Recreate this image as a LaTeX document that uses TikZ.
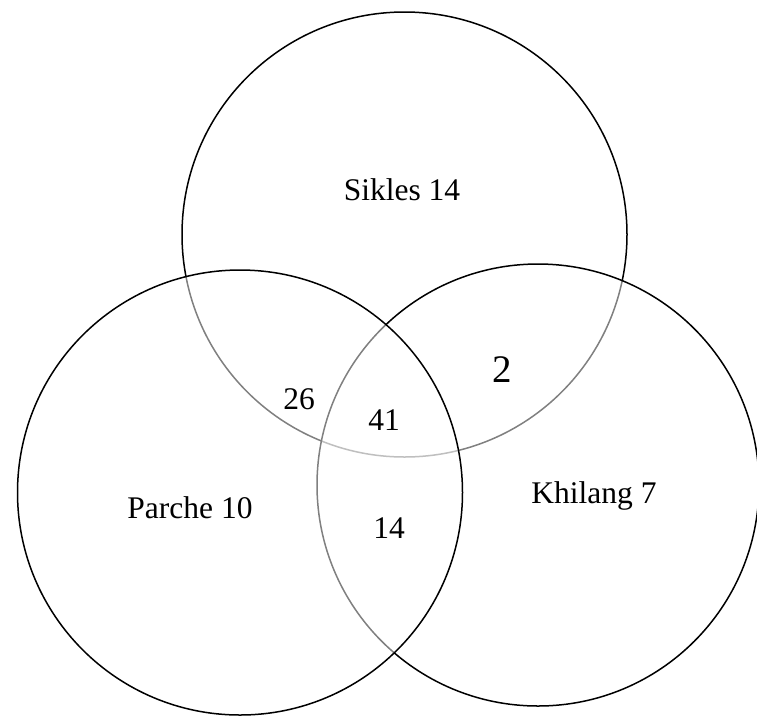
\documentclass[tikz,border=0pt]{standalone}
\usepackage{fontspec}
\setmainfont{Liberation Serif}
\begin{document}
\begin{tikzpicture}[x=1pt,y=-1pt,
  setcircle/.style={circle,draw=black,line width=1.5pt,fill=white,fill opacity=0.5,inner sep=0pt},
  lbl/.style={font=\fontsize{31.5}{34}\selectfont,inner sep=0pt},
  biglbl/.style={font=\fontsize{39}{42}\selectfont,inner sep=0pt}]
\useasboundingbox (0,0) rectangle (757,716);
\node[setcircle,minimum size=445pt] (sikles) at (404.5,234.5) {};
\node[setcircle,minimum size=442pt] (khilang) at (538,485) {};
\node[setcircle,minimum size=445pt] (parche) at (240,492.5) {};
\node[lbl] (tsik) at (402,190) {Sikles 14};
\node[lbl] (tpar) at (190,508) {Parche 10};
\node[lbl] (tkhi) at (594,496) {Khilang 7};
\node[lbl] (t26) at (299,399) {26};
\node[lbl] (t41) at (384,420) {41};
\node[lbl] (t14) at (389,528) {14};
\node[biglbl] (t2) at (502,370) {2};
\end{tikzpicture}
\end{document}
